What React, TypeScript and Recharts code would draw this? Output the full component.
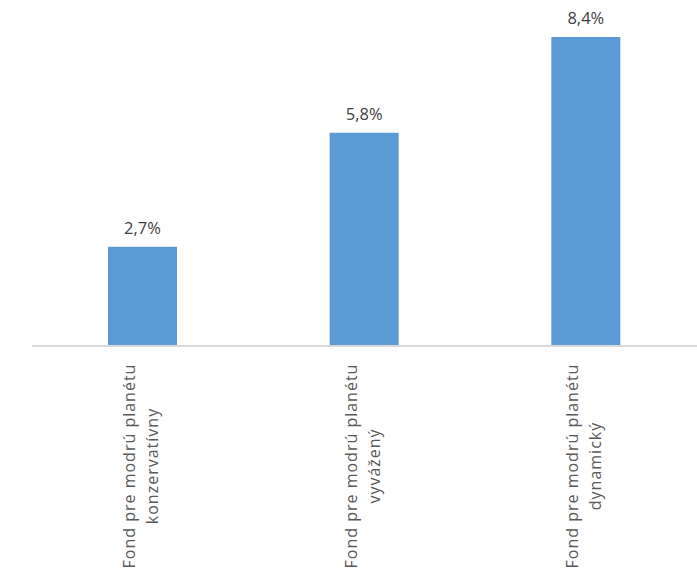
import { BarChart, Bar, XAxis, YAxis, LabelList } from "recharts"

const categories = [
  "Fond pre modrú planétu\nkonzervatívny",
  "Fond pre modrú planétu\nvyvážený",
  "Fond pre modrú planétu\ndynamický",
]
const returns = [2.7, 5.8, 8.4]

const data = categories.map((name, i) => ({ name, value: returns[i] }))

const font = "'Open Sans', 'DejaVu Sans', sans-serif"

const formatPct = (v: number) => `${v.toFixed(1).replace(".", ",")}%`

function CategoryTick({ x, y, payload }: any) {
  const lines = String(payload.value).split("\n")
  return (
    <g transform={`translate(${x},${y + 112}) rotate(-90)`}>
      <text textAnchor="middle" fill="#595959" fontSize={16} letterSpacing={1} fontFamily={font}>
        {lines.map((line, i) => (
          <tspan key={i} x={0} y={-8 + i * 23}>
            {line}
          </tspan>
        ))}
      </text>
    </g>
  )
}

export default function App() {
  return (
    <div style={{ position: "absolute", left: 0, top: 0, background: "#fff" }}>
      <BarChart width={697} height={581} data={data} margin={{ top: 15, right: 0, left: 32, bottom: 0 }}>
        <YAxis hide domain={[0, 9]} />
        <XAxis
          dataKey="name"
          height={235}
          interval={0}
          tickLine={false}
          axisLine={{ stroke: "#D9D9D9", strokeWidth: 2 }}
          tick={<CategoryTick />}
        />
        <Bar dataKey="value" fill="#5B9BD5" barSize={69} isAnimationActive={false}>
          <LabelList
            dataKey="value"
            position="top"
            offset={13}
            formatter={(v: any) => formatPct(Number(v))}
            fill="#404040"
            fontSize={16.5}
            fontFamily={font}
          />
        </Bar>
      </BarChart>
    </div>
  )
}
